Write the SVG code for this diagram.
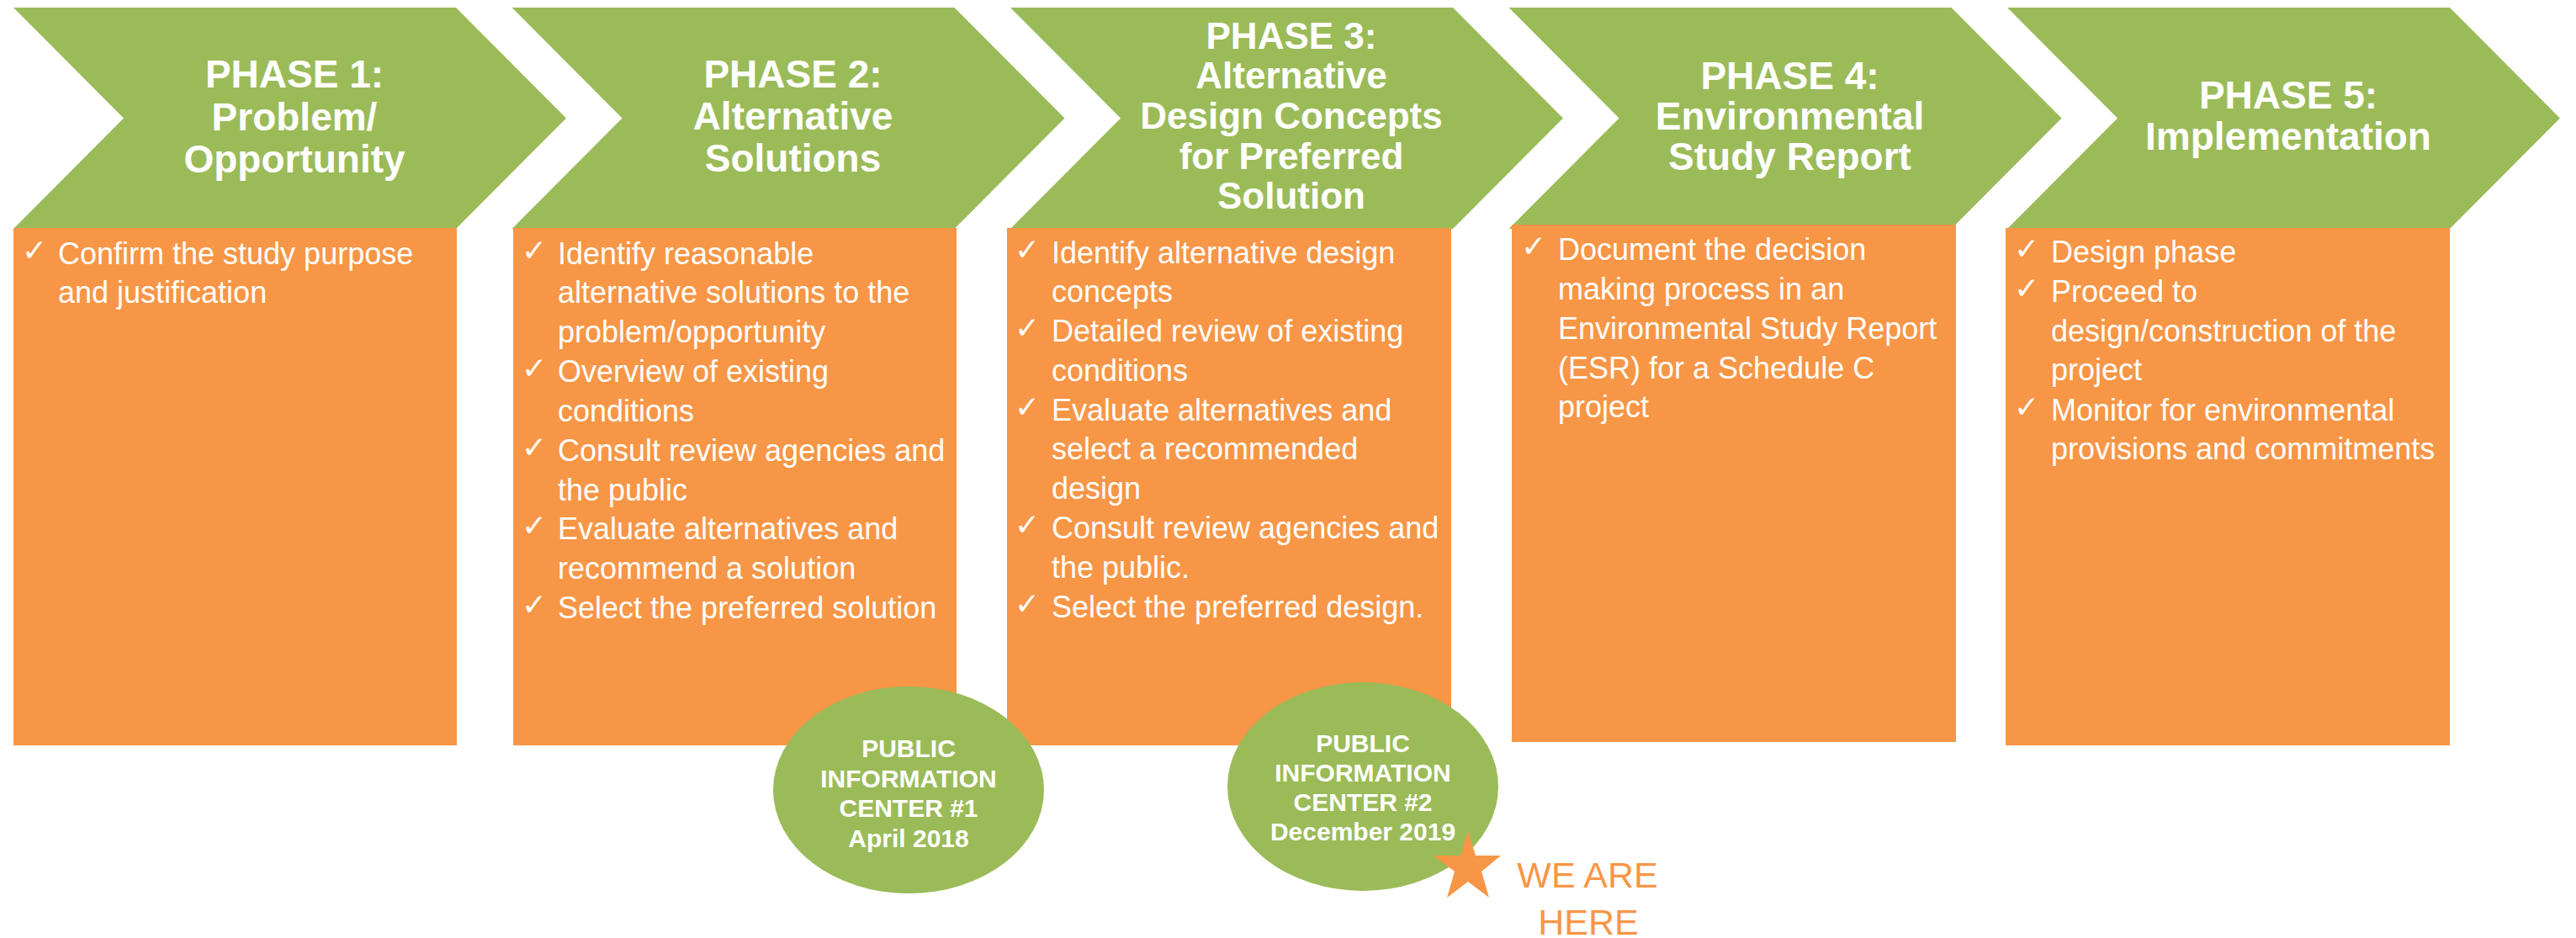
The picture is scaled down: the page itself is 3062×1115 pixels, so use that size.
<svg xmlns="http://www.w3.org/2000/svg" width="3062" height="1115" viewBox="0 0 3062 1115">
<style>
.chev{fill:#9BBB59}
.box{fill:#F79646}
.pic{fill:#9BBB59}
.h{font-family:"Liberation Sans",Arial,sans-serif;font-weight:bold;font-size:46px;fill:#FFFFFF;text-anchor:middle}
.h3{font-size:44px}
.b{font-family:"Liberation Sans",Arial,sans-serif;font-size:36px;fill:#FFFFFF}
.ck{font-family:"DejaVu Sans",sans-serif;font-size:36px;fill:#FFFFFF}
.c{font-family:"Liberation Sans",Arial,sans-serif;font-weight:bold;font-size:30px;fill:#FFFFFF;text-anchor:middle}
.here{font-family:"Liberation Sans",Arial,sans-serif;font-size:43px;fill:#F79646;text-anchor:middle}
</style>
<rect width="3062" height="1115" fill="#FFFFFF"/>
<g id="connectors"></g>

<g id="phase1">
<polygon class="chev" points="16,9 542,9 673,140.5 542,272 16,272 147,140.5"/>
<rect class="box" x="16" y="271" width="527" height="615"/>
<text class="h" x="350" y="104">PHASE 1:</text>
<text class="h" x="350" y="155">Problem/</text>
<text class="h" x="350" y="205">Opportunity</text>
<text class="ck" x="26" y="310">✓</text><text class="b" x="69" y="314">Confirm the study purpose</text>
<text class="b" x="69" y="360">and justification</text>
</g>

<g id="phase2">
<polygon class="chev" points="608.5,9 1134.5,9 1265.5,140.5 1134.5,272 608.5,272 739.5,140.5"/>
<rect class="box" x="610" y="271" width="527" height="615"/>
<text class="h" x="942.5" y="104">PHASE 2:</text>
<text class="h" x="942.5" y="154">Alternative</text>
<text class="h" x="942.5" y="204">Solutions</text>
<text class="ck" x="620" y="310">✓</text><text class="b" x="663" y="314">Identify reasonable</text>
<text class="b" x="663" y="360">alternative solutions to the</text>
<text class="b" x="663" y="407">problem/opportunity</text>
<text class="ck" x="620" y="450">✓</text><text class="b" x="663" y="454">Overview of existing</text>
<text class="b" x="663" y="501">conditions</text>
<text class="ck" x="620" y="544">✓</text><text class="b" x="663" y="548">Consult review agencies and</text>
<text class="b" x="663" y="595">the public</text>
<text class="ck" x="620" y="637">✓</text><text class="b" x="663" y="641">Evaluate alternatives and</text>
<text class="b" x="663" y="688">recommend a solution</text>
<text class="ck" x="620" y="731">✓</text><text class="b" x="663" y="735">Select the preferred solution</text>
</g>

<g id="phase3">
<polygon class="chev" points="1201,9 1727,9 1858,140.5 1727,272 1201,272 1332,140.5"/>
<rect class="box" x="1197" y="271" width="528" height="615"/>
<text class="h h3" x="1535" y="58">PHASE 3:</text>
<text class="h h3" x="1535" y="105">Alternative</text>
<text class="h h3" x="1535" y="153">Design Concepts</text>
<text class="h h3" x="1535" y="201">for Preferred</text>
<text class="h h3" x="1535" y="248">Solution</text>
<text class="ck" x="1206" y="309">✓</text><text class="b" x="1250" y="313">Identify alternative design</text>
<text class="b" x="1250" y="359">concepts</text>
<text class="ck" x="1206" y="402">✓</text><text class="b" x="1250" y="406">Detailed review of existing</text>
<text class="b" x="1250" y="453">conditions</text>
<text class="ck" x="1206" y="496">✓</text><text class="b" x="1250" y="500">Evaluate alternatives and</text>
<text class="b" x="1250" y="546">select a recommended</text>
<text class="b" x="1250" y="593">design</text>
<text class="ck" x="1206" y="636">✓</text><text class="b" x="1250" y="640">Consult review agencies and</text>
<text class="b" x="1250" y="687">the public.</text>
<text class="ck" x="1206" y="730">✓</text><text class="b" x="1250" y="734">Select the preferred design.</text>
</g>

<g id="phase4">
<polygon class="chev" points="1793.5,9 2319.5,9 2450.5,140.5 2319.5,272 1793.5,272 1924.5,140.5"/>
<rect class="box" x="1797" y="267" width="528" height="615"/>
<text class="h" x="2127.5" y="106">PHASE 4:</text>
<text class="h" x="2127.5" y="154">Environmental</text>
<text class="h" x="2127.5" y="202">Study Report</text>
<text class="ck" x="1808" y="305">✓</text><text class="b" x="1852" y="309">Document the decision</text>
<text class="b" x="1852" y="356">making process in an</text>
<text class="b" x="1852" y="403">Environmental Study Report</text>
<text class="b" x="1852" y="450">(ESR) for a Schedule C</text>
<text class="b" x="1852" y="496">project</text>
</g>

<g id="phase5">
<polygon class="chev" points="2386,9 2912,9 3043,140.5 2912,272 2386,272 2517,140.5"/>
<rect class="box" x="2384" y="271" width="528" height="615"/>
<text class="h" x="2720" y="129">PHASE 5:</text>
<text class="h" x="2720" y="178">Implementation</text>
<text class="ck" x="2394" y="308">✓</text><text class="b" x="2438" y="312">Design phase</text>
<text class="ck" x="2394" y="355">✓</text><text class="b" x="2438" y="359">Proceed to</text>
<text class="b" x="2438" y="406">design/construction of the</text>
<text class="b" x="2438" y="452">project</text>
<text class="ck" x="2394" y="496">✓</text><text class="b" x="2438" y="500">Monitor for environmental</text>
<text class="b" x="2438" y="546">provisions and commitments</text>
</g>

<g id="pic1">
<ellipse class="pic" cx="1080" cy="939" rx="161" ry="123"/>
<text class="c" x="1080" y="900">PUBLIC</text>
<text class="c" x="1080" y="936">INFORMATION</text>
<text class="c" x="1080" y="971">CENTER #1</text>
<text class="c" x="1080" y="1007">April 2018</text>
</g>

<g id="pic2">
<ellipse class="pic" cx="1620" cy="935" rx="161" ry="124"/>
<text class="c" x="1620" y="894">PUBLIC</text>
<text class="c" x="1620" y="929">INFORMATION</text>
<text class="c" x="1620" y="964">CENTER #2</text>
<text class="c" x="1620" y="999">December 2019</text>
</g>

<g id="we-are-here">
<polygon fill="#F79646" points="1745,988 1754,1017 1784,1017 1761,1036 1770,1067 1745,1048 1720,1067 1729,1036 1704,1017 1736,1017"/>
<text class="here" x="1887" y="1055">WE ARE</text>
<text class="here" x="1888" y="1111">HERE</text>
</g>
</svg>
